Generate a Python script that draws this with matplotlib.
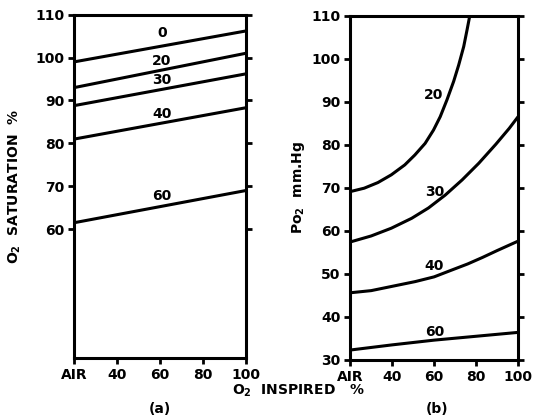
import matplotlib
matplotlib.use("Agg")
import matplotlib.pyplot as plt

plt.rcParams['font.family'] = ['DejaVu Sans']
plt.rcParams['font.weight'] = 'bold'

# ---- data ----
x_ticks = [20, 40, 60, 80, 100]
x_ticklabels = ["AIR", "40", "60", "80", "100"]

# panel (a): O2 saturation %, straight lines from AIR to 100 % O2
sat_x = [20, 100]
sat_0 = [99.0, 106.2]
sat_20 = [93.0, 101.0]
sat_30 = [88.8, 96.2]
sat_40 = [81.0, 88.3]
sat_60 = [61.5, 69.0]
sat_series = [("0", sat_0), ("20", sat_20), ("30", sat_30), ("40", sat_40), ("60", sat_60)]
sat_label_pos = {"0": (61, 105.7), "20": (61, 99.1), "30": (61, 94.7), "40": (61, 86.9), "60": (61, 67.8)}
sat_yticks = [60, 70, 80, 90, 100, 110]

# panel (b): Po2 mm Hg
po2_20_x = [20, 26.7, 33.2, 39.6, 46.0, 50.8, 55.7, 59.7, 62.9, 66.1, 69.3, 71.7, 74.1, 75.7, 77.0]
po2_20_y = [69.1, 69.9, 71.2, 73.0, 75.3, 77.6, 80.3, 83.4, 86.5, 90.4, 94.7, 98.5, 102.8, 106.7, 110.0]
po2_30_x = [20, 30.0, 39.6, 49.3, 57.3, 65.3, 73.3, 81.3, 89.4, 95.8, 100]
po2_30_y = [57.4, 58.8, 60.6, 62.9, 65.3, 68.3, 71.8, 75.7, 80.1, 83.8, 86.5]
po2_40_x = [20, 30, 41, 51, 60, 68.5, 76, 83, 90, 100]
po2_40_y = [45.6, 46.1, 47.2, 48.2, 49.3, 50.9, 52.3, 53.8, 55.4, 57.6]
po2_60_x = [20, 40, 60, 80, 100]
po2_60_y = [32.3, 33.5, 34.6, 35.5, 36.4]
po2_series = [("20", po2_20_x, po2_20_y), ("30", po2_30_x, po2_30_y),
              ("40", po2_40_x, po2_40_y), ("60", po2_60_x, po2_60_y)]
po2_label_pos = {"20": (59.7, 91.6), "30": (60.2, 68.9), "40": (60.2, 51.8), "60": (60.2, 36.5)}
po2_yticks = [30, 40, 50, 60, 70, 80, 90, 100, 110]

# ---- figure ----
fig = plt.figure(figsize=(5.33, 4.2), dpi=100)
axa = fig.add_axes([0.139, 0.148, 0.322, 0.817])
axb = fig.add_axes([0.657, 0.143, 0.315, 0.820])

LW = 2.2
FS = 10

def style(ax, yticks):
    ax.set_xlim(20, 100)
    ax.set_ylim(30, 110)
    ax.set_xticks(x_ticks)
    ax.set_xticklabels(x_ticklabels)
    ax.set_yticks(yticks)
    ax.yaxis.set_ticks_position('both')
    ax.tick_params(axis='both', direction='out', length=4, width=2, labelsize=FS, pad=3)
    ax.tick_params(axis='y', right=True, labelright=False)
    for s in ax.spines.values():
        s.set_linewidth(LW)
    for lab in ax.get_xticklabels() + ax.get_yticklabels():
        lab.set_fontweight('bold')

style(axa, sat_yticks)
style(axb, po2_yticks)

for name, ys in sat_series:
    axa.plot(sat_x, ys, color='black', lw=LW, solid_capstyle='butt', solid_joinstyle='round')
    lx, ly = sat_label_pos[name]
    axa.text(lx, ly, name, ha='center', va='center', fontsize=FS, fontweight='bold')

for name, xs, ys in po2_series:
    axb.plot(xs, ys, color='black', lw=LW, solid_capstyle='butt', solid_joinstyle='round')
    lx, ly = po2_label_pos[name]
    axb.text(lx, ly, name, ha='center', va='center', fontsize=FS, fontweight='bold')

axa.set_ylabel("O$_\\mathbf{2}$  SATURATION  %", fontsize=FS, fontweight='bold', labelpad=9)
axb.set_ylabel("Po$_\\mathbf{2}$  mm.Hg", fontsize=FS, fontweight='bold', labelpad=3)

fig.text(298 / 533, 1 - 391 / 420, "O$_\\mathbf{2}$  INSPIRED   %", ha='center', va='center',
         fontsize=FS, fontweight='bold')
fig.text(160 / 533, 1 - 409 / 420, "(a)", ha='center', va='center', fontsize=FS, fontweight='bold')
fig.text(437 / 533, 1 - 409 / 420, "(b)", ha='center', va='center', fontsize=FS, fontweight='bold')

fig.savefig("out.png", dpi=100)
